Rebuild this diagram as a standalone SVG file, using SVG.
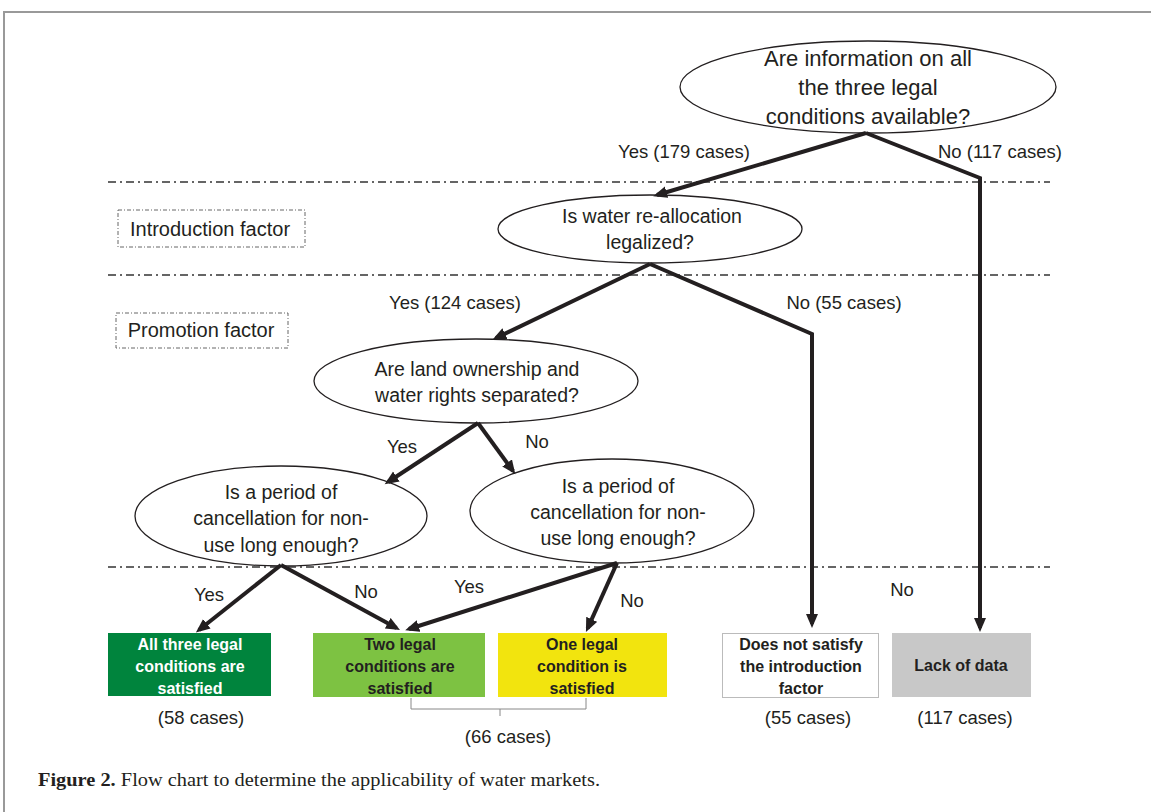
<svg xmlns="http://www.w3.org/2000/svg" width="1151" height="812" viewBox="0 0 1151 812">
<style>
.t{font-family:"Liberation Sans",Arial,sans-serif;font-size:19.5px;fill:#231f20;text-anchor:middle}
.l{font-family:"Liberation Sans",Arial,sans-serif;font-size:18.5px;fill:#231f20;text-anchor:middle}
.f{font-family:"Liberation Sans",Arial,sans-serif;font-size:20px;fill:#231f20;text-anchor:middle}
.tl{font-family:"Liberation Sans",Arial,sans-serif;font-size:22px;fill:#231f20;text-anchor:middle}
.b{font-family:"Liberation Sans",Arial,sans-serif;font-size:16px;font-weight:bold;fill:#231f20;text-anchor:middle}
.ell{fill:#fff;stroke:#231f20;stroke-width:1.3}
.sep{stroke:#333;stroke-width:1.5;stroke-dasharray:8 4 2 4;fill:none}
.fbox{fill:none;stroke:#666;stroke-width:1;stroke-dasharray:4 2 1 2}
.arr{fill:none;stroke:#231f20;stroke-width:4;stroke-linejoin:miter;marker-end:url(#ah)}
</style>
<defs>
<marker id="ah" markerUnits="userSpaceOnUse" markerWidth="16" markerHeight="14" refX="10" refY="6" orient="auto">
<path d="M0,0 L14,6 L0,12 z" fill="#231f20"/>
</marker>
</defs>
<rect width="1151" height="812" fill="#fff"/>
<path d="M4,812 V12 H1151" fill="none" stroke="#999" stroke-width="2"/>

<g id="separators">
<line class="sep" x1="108" y1="182" x2="1050" y2="182"/>
<line class="sep" x1="108" y1="275" x2="1050" y2="275"/>
<line class="sep" x1="108" y1="567" x2="1050" y2="567"/>
</g>

<g id="introduction-factor">
<rect class="fbox" x="118" y="210" width="187" height="37"/>
<text class="f" x="210" y="236">Introduction factor</text>
</g>
<g id="promotion-factor">
<rect class="fbox" x="116" y="313" width="172" height="35"/>
<text class="f" x="201" y="337">Promotion factor</text>
</g>

<g id="q-info">
<ellipse class="ell" cx="868" cy="87" rx="188" ry="46"/>
<text class="tl" x="868" y="66">Are information on all</text>
<text class="tl" x="868" y="95">the three legal</text>
<text class="tl" x="868" y="124">conditions available?</text>
</g>
<g id="q-reallocation">
<ellipse class="ell" cx="650" cy="229" rx="152" ry="34"/>
<text class="t" x="652" y="223">Is water re-allocation</text>
<text class="t" x="650" y="249">legalized?</text>
</g>
<g id="q-separated">
<ellipse class="ell" cx="476" cy="381" rx="162" ry="42"/>
<text class="t" x="477" y="376">Are land ownership and</text>
<text class="t" x="477" y="402">water rights separated?</text>
</g>
<g id="q-period-left">
<ellipse class="ell" cx="281" cy="516" rx="146" ry="50"/>
<text class="t" x="281" y="499">Is a period of</text>
<text class="t" x="281" y="525">cancellation for non-</text>
<text class="t" x="281" y="552">use long enough?</text>
</g>
<g id="q-period-right">
<ellipse class="ell" cx="612" cy="511" rx="142" ry="52"/>
<text class="t" x="618" y="493">Is a period of</text>
<text class="t" x="618" y="519">cancellation for non-</text>
<text class="t" x="618" y="545">use long enough?</text>
</g>

<g id="r-three">
<rect x="108" y="633" width="163" height="63" fill="#00843d"/>
<text class="b" x="190" y="650" style="fill:#fff">All three legal</text>
<text class="b" x="190" y="672" style="fill:#fff">conditions are</text>
<text class="b" x="190" y="694" style="fill:#fff">satisfied</text>
<text class="l" x="201" y="724">(58 cases)</text>
</g>
<g id="r-two">
<rect x="313" y="633" width="172" height="64" fill="#7dc242"/>
<text class="b" x="400" y="650">Two legal</text>
<text class="b" x="400" y="672">conditions are</text>
<text class="b" x="400" y="694">satisfied</text>
</g>
<g id="r-one">
<rect x="498" y="633" width="169" height="64" fill="#f2e40e"/>
<text class="b" x="582" y="650">One legal</text>
<text class="b" x="582" y="672">condition is</text>
<text class="b" x="582" y="694">satisfied</text>
</g>
<g id="r-66">
<path d="M411,698 V709 H500 V716 M500,709 H586 V698" fill="none" stroke="#888" stroke-width="1"/>
<text class="l" x="508" y="743">(66 cases)</text>
</g>
<g id="r-not">
<rect x="722.5" y="633.5" width="156" height="64" fill="#fff" stroke="#bbb" stroke-width="1"/>
<text class="b" x="801" y="650">Does not satisfy</text>
<text class="b" x="801" y="672">the introduction</text>
<text class="b" x="801" y="694">factor</text>
<text class="l" x="808" y="724">(55 cases)</text>
</g>
<g id="r-lack">
<rect x="892" y="633" width="139" height="64" fill="#c8c8c8"/>
<text class="b" x="961" y="671">Lack of data</text>
<text class="l" x="965" y="724">(117 cases)</text>
</g>

<g id="connectors">
<line class="arr" x1="866" y1="133" x2="657" y2="195"/>
<polyline class="arr" points="866,133 980,178 980,628"/>
<line class="arr" x1="650" y1="264" x2="496" y2="338"/>
<polyline class="arr" points="650,264 812,334 812,624"/>
<line class="arr" x1="478" y1="423" x2="388" y2="482"/>
<line class="arr" x1="478" y1="423" x2="513" y2="471"/>
<line class="arr" x1="281" y1="565" x2="199" y2="630"/>
<line class="arr" x1="281" y1="565" x2="396.5" y2="628"/>
<line class="arr" x1="617" y1="563" x2="409" y2="629"/>
<line class="arr" x1="617" y1="563" x2="587.6" y2="628.4"/>
<g class="lbl">
<text class="l" x="684" y="158">Yes (179 cases)</text>
<text class="l" x="1000" y="158">No (117 cases)</text>
<text class="l" x="455" y="309">Yes (124 cases)</text>
<text class="l" x="844" y="309">No (55 cases)</text>
<text class="l" x="402" y="453">Yes</text>
<text class="l" x="537" y="448">No</text>
<text class="l" x="209" y="601">Yes</text>
<text class="l" x="366" y="598">No</text>
<text class="l" x="469" y="593">Yes</text>
<text class="l" x="632" y="607">No</text>
<text class="l" x="902" y="596">No</text>
</g>
</g>

<g id="caption">
<text x="38" y="786" style="font-family:'Liberation Serif','Times New Roman',serif;font-size:19px;fill:#231f20" textLength="562" lengthAdjust="spacingAndGlyphs"><tspan font-weight="bold">Figure 2.</tspan> Flow chart to determine the applicability of water markets.</text>
</g>
</svg>
